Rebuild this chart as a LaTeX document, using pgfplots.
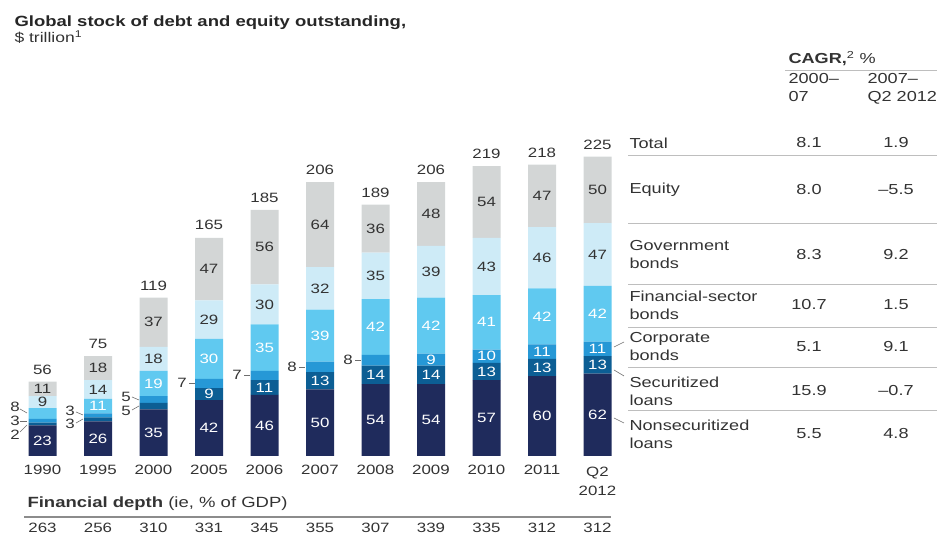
\documentclass[border=0pt]{standalone}
\usepackage{fontspec}
\setmainfont[FakeStretch=1.25]{Liberation Sans}
\usepackage{pgfplots}
\pgfplotsset{compat=1.18}
\definecolor{cNon}{RGB}{31,43,92}
\definecolor{cSec}{RGB}{12,94,148}
\definecolor{cCor}{RGB}{38,152,214}
\definecolor{cFin}{RGB}{96,201,240}
\definecolor{cGov}{RGB}{206,235,247}
\definecolor{cEq}{RGB}{211,214,214}
\definecolor{txt}{RGB}{51,51,51}
\definecolor{rulec}{RGB}{190,190,190}
\definecolor{leadc}{RGB}{110,110,110}
\begin{document}
\begin{tikzpicture}[font=\fontsize{13.5bp}{16bp}\selectfont, text=txt]
\useasboundingbox (0,0) rectangle (937bp,535bp);
\begin{axis}[x=55.5bp, y=1.33bp, xmin=-0.76577, xmax=16.11712, ymin=-59.398, ymax=342.857,
  at={(0,0)}, anchor=south west, hide axis, clip=false,
  ybar stacked, bar width=28bp]
\addplot[fill=cNon, draw=none] coordinates {(0,23) (1,26) (2,35) (3,42) (4,46) (5,50) (6,54) (7,54) (8,57) (9,60) (10,62)};
\addplot[fill=cSec, draw=none] coordinates {(0,2) (1,3) (2,5) (3,9) (4,11) (5,13) (6,14) (7,14) (8,13) (9,13) (10,13)};
\addplot[fill=cCor, draw=none] coordinates {(0,3) (1,3) (2,5) (3,7) (4,7) (5,8) (6,8) (7,9) (8,10) (9,11) (10,11)};
\addplot[fill=cFin, draw=none] coordinates {(0,8) (1,11) (2,19) (3,30) (4,35) (5,39) (6,42) (7,42) (8,41) (9,42) (10,42)};
\addplot[fill=cGov, draw=none] coordinates {(0,9) (1,14) (2,18) (3,29) (4,30) (5,32) (6,35) (7,39) (8,43) (9,46) (10,47)};
\addplot[fill=cEq, draw=none] coordinates {(0,11) (1,18) (2,37) (3,47) (4,56) (5,64) (6,36) (7,48) (8,54) (9,47) (10,50)};
\end{axis}
% labels in data units
\begin{scope}[x=55.5bp, y=1.33bp, shift={(42.5bp,79bp)}]
\foreach \i/\y/\v in {0/11.5/23, 1/13/26, 2/17.5/35, 3/21/42, 4/23/46, 5/25/50, 6/27/54, 7/27/54, 8/28.5/57, 9/30/60, 10/31/62,
  3/46.5/9, 4/51.5/11, 5/56.5/13, 6/61/14, 7/61/14, 8/63.5/13, 9/66.5/13, 10/68.5/13,
  7/72.5/9, 8/75/10, 9/78.5/11, 10/80.5/11,
  1/37.5/11, 2/54.5/19, 3/73/30, 4/81.5/35, 5/90.5/39, 6/97/42, 7/98/42, 8/100.5/41, 9/105/42, 10/107/42}
  \node[text=white] at (\i,\y) {\v};
\foreach \i/\y/\v in {0/40.5/9, 1/50/14, 2/73/18, 3/102.5/29, 4/114/30, 5/126/32, 6/135.5/35, 7/138.5/39, 8/142.5/43, 9/149/46, 10/151.5/47,
  0/50.5/11, 1/66/18, 2/100.5/37, 3/140.5/47, 4/157/56, 5/174/64, 6/171/36, 7/182/48, 8/191/54, 9/195.5/47, 10/200/50,
  0/65/56, 1/84/75, 2/128/119, 3/174/165, 4/194/185, 5/215/206, 6/198/189, 7/215/206, 8/227.5/219, 9/228/218, 10/234/225}
  \node at (\i,\y) {\v};
\end{scope}
% layout in pixel units
\begin{scope}[x=1bp, y=-1bp, shift={(0bp,535bp)}]
\node[anchor=base west, font=\fontsize{14.8bp}{17bp}\selectfont\bfseries, text=black!85] at (11,27) {Global stock of debt and equity outstanding,};
\node[anchor=base west, font=\fontsize{14bp}{16bp}\selectfont] at (11,43) {\$ trillion\textsuperscript{1}};
% years
\foreach \i/\l in {0/1990,1/1995,2/2000,3/2005,4/2006,5/2007,6/2008,7/2009,8/2010,9/2011}
  \node at ({42.5+55.5*\i},470) {\l};
\node at (597.5,473) {Q2};
\node at (597.5,491) {2012};
% outside labels
\node at (15,407) {8}; \draw[leadc, line width=0.6bp] (20,409)--(27,413);
\node at (15,421) {3}; \draw[leadc, line width=0.6bp] (20,421)--(27,421);
\node at (15,435) {2}; \draw[leadc, line width=0.6bp] (20,432)--(27,425);
\node at (70,411) {3}; \draw[leadc, line width=0.6bp] (76,412)--(83,415);
\node at (70,424) {3}; \draw[leadc, line width=0.6bp] (76,423)--(83,419);
\node at (126,397) {5}; \draw[leadc, line width=0.6bp] (132,397)--(139,400);
\node at (126,411) {5}; \draw[leadc, line width=0.6bp] (132,410)--(139,406);
\node at (182,383) {7}; \draw[leadc, line width=0.6bp] (189,383)--(195,383);
\node at (237,375) {7}; \draw[leadc, line width=0.6bp] (244,375)--(250,375);
\node at (292,367) {8}; \draw[leadc, line width=0.6bp] (299,367)--(305,367);
\node at (348,360) {8}; \draw[leadc, line width=0.6bp] (355,360)--(361,360);
% financial depth
\node[anchor=base west, font=\fontsize{14.8bp}{17bp}\selectfont] at (24,508) {\textbf{Financial depth} (ie, \% of GDP)};
\draw[black!45, line width=1.2bp] (24,517)--(611,517);
\foreach \i/\l in {0/263,1/256,2/310,3/331,4/345,5/355,6/307,7/339,8/335,9/312,10/312}
  \node at ({42.5+55.5*\i},528) {\l};
% CAGR table
\begin{scope}[font=\fontsize{14.5bp}{18bp}\selectfont]
\node[anchor=base west] at (785,64) {\textbf{CAGR,}\textsuperscript{2} \%};
\draw[rulec, line width=1bp] (785,70.5)--(937,70.5);
\node[anchor=base west] at (785,84) {2000–};
\node[anchor=base west] at (785,102) {07};
\node[anchor=base west] at (864,84) {2007–};
\node[anchor=base west] at (864,102) {Q2 2012};
\node[anchor=west] at (626,143) {Total};
\node at (809,143) {8.1}; \node at (896,143) {1.9};
\draw[rulec, line width=1bp] (628,156)--(937,156);
\node[anchor=west] at (626,190) {Equity};
\node at (809,190) {8.0}; \node at (896,190) {–5.5};
\draw[rulec, line width=1bp] (628,224)--(937,224);
\node[anchor=west, align=left] at (626,255) {Government\\bonds};
\node at (809,255) {8.3}; \node at (896,255) {9.2};
\draw[rulec, line width=1bp] (628,285)--(937,285);
\node[anchor=west, align=left] at (626,305) {Financial-sector\\bonds};
\node at (809,305) {10.7}; \node at (896,305) {1.5};
\draw[rulec, line width=1bp] (628,328)--(937,328);
\node[anchor=west, align=left] at (626,347) {Corporate\\bonds};
\node at (809,347) {5.1}; \node at (896,347) {9.1};
\draw[rulec, line width=1bp] (628,368)--(937,368);
\node[anchor=west, align=left] at (626,391) {Securitized\\loans};
\node at (809,391) {15.9}; \node at (896,391) {–0.7};
\draw[rulec, line width=1bp] (628,411)--(937,411);
\node[anchor=west, align=left] at (626,434) {Nonsecuritized\\loans};
\node at (809,434) {5.5}; \node at (896,434) {4.8};
\end{scope}
% leaders to 2012 bar
\draw[leadc, line width=0.6bp] (614,347)--(624,342);
\draw[leadc, line width=0.6bp] (614,370)--(624,376);
\draw[leadc, line width=0.6bp] (614,418)--(624,423);
\end{scope}
\end{tikzpicture}
\end{document}
